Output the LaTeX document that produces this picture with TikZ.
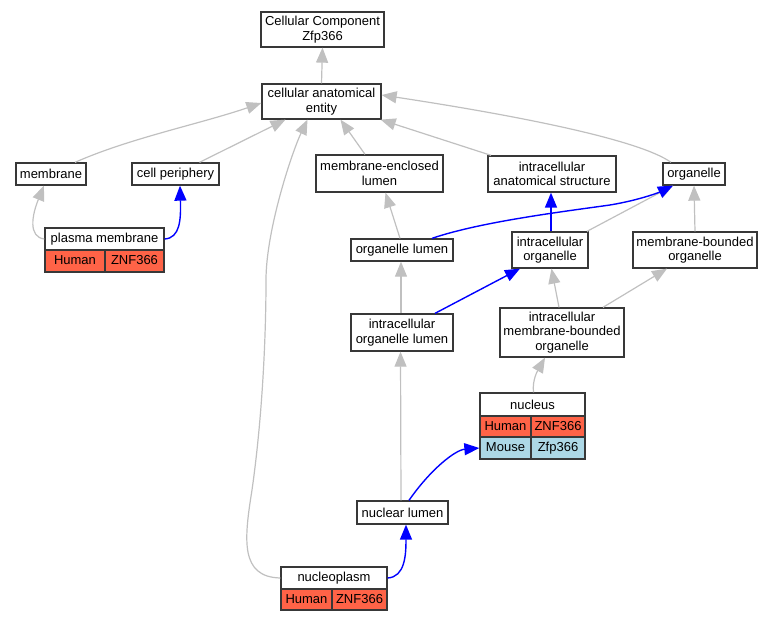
\documentclass[tikz,border=0pt]{standalone}
\usepackage{fontspec}
\setmainfont{Liberation Sans}
\usetikzlibrary{arrows.meta}
\definecolor{edgegray}{HTML}{C0C0C0}
\definecolor{human}{HTML}{FF6347}
\definecolor{mouse}{HTML}{ADD8E6}
\definecolor{bord}{HTML}{383838}
\definecolor{partblue}{HTML}{0000FF}
\begin{document}
\begin{tikzpicture}[x=1pt,y=-1pt,
  box/.style={draw=bord, line width=1.3pt, fill=white, align=center, inner sep=0pt,
    font=\fontsize{13}{14.5}\selectfont},
  hcell/.style={box, fill=human, text height=9.5pt, text depth=2.5pt},
  mcell/.style={box, fill=mouse, text height=9.5pt, text depth=2.5pt},
  isa/.style={draw=edgegray, line width=1.2pt, -{Triangle[length=15pt,width=12pt,fill=edgegray]}},
  partof/.style={draw=partblue, line width=1.4pt, -{Triangle[length=15pt,width=12pt,fill=partblue]}}
]
\useasboundingbox (0,0) rectangle (772,621);

% nodes
\node[box, minimum width=123pt, minimum height=35pt] (cc) at (322.5,29.5) {Cellular Component\\Zfp366};
\node[box, minimum width=119pt, minimum height=35pt] (cae) at (321.5,101.5) {cellular anatomical\\entity};
\node[box, minimum width=70pt, minimum height=22pt] (membrane) at (51,174) {membrane};
\node[box, minimum width=87pt, minimum height=22pt] (cellper) at (175.5,174) {cell periphery};
\node[box, minimum width=127pt, minimum height=37pt] (mel) at (379.5,173.5) {membrane-enclosed\\lumen};
\node[box, minimum width=128pt, minimum height=36pt] (ias) at (552,174) {intracellular\\anatomical structure};
\node[box, minimum width=62pt, minimum height=22pt] (org) at (694,174) {organelle};

\node[box, minimum width=119pt, minimum height=22pt] (pm) at (104.5,239) {plasma membrane};
\node[hcell, minimum width=60pt, minimum height=22pt] (pmh) at (75,261) {Human};
\node[hcell, minimum width=59pt, minimum height=22pt] (pmg) at (134.5,261) {ZNF366};

\node[box, minimum width=102pt, minimum height=22pt] (ol) at (402,250) {organelle lumen};
\node[box, minimum width=76pt, minimum height=36pt] (io) at (550,250) {intracellular\\organelle};
\node[box, minimum width=124pt, minimum height=36pt] (mbo) at (695,250) {membrane-bounded\\organelle};
\node[box, minimum width=102pt, minimum height=37pt] (iol) at (402,332.5) {intracellular\\organelle lumen};
\node[box, minimum width=124pt, minimum height=49pt] (imbo) at (562,332.5) {intracellular\\membrane-bounded\\organelle};

\node[box, minimum width=105pt, minimum height=23pt] (nucleus) at (532.5,404.5) {nucleus};
\node[hcell, minimum width=51pt, minimum height=21pt] (nuh) at (505.5,426.5) {Human};
\node[hcell, minimum width=54pt, minimum height=21pt] (nug) at (558,426.5) {ZNF366};
\node[mcell, minimum width=51pt, minimum height=22pt] (num) at (505.5,448) {Mouse};
\node[mcell, minimum width=54pt, minimum height=22pt] (nuz) at (558,448) {Zfp366};

\node[box, minimum width=91pt, minimum height=23pt] (nl) at (402.5,512.5) {nuclear lumen};

\node[box, minimum width=106pt, minimum height=22pt] (np) at (334,578) {nucleoplasm};
\node[hcell, minimum width=51pt, minimum height=21pt] (nph) at (306.5,599.5) {Human};
\node[hcell, minimum width=55pt, minimum height=21pt] (npg) at (359.5,599.5) {ZNF366};

% gray is_a edges
\draw[isa] (cae.north) -- (cc.south);
\draw[isa] ([xshift=24pt]membrane.north) .. controls (130,138) and (200,124) .. ([yshift=-1.5pt]cae.west);
\draw[isa] ([xshift=24pt]cellper.north) -- ([xshift=-36pt]cae.south);
\draw[isa] (np.west) .. controls (240,577) and (244,540) .. (252,490)
   .. controls (262,420) and (266,340) .. (266,280)
   .. controls (266,230) and (292,152) .. ([xshift=-14pt]cae.south);
\draw[isa] ([xshift=-14.5pt]mel.north) -- ([xshift=19pt]cae.south);
\draw[isa] ([xshift=-61pt]ias.north) -- ([xshift=-1pt]cae.south east);
\draw[isa] ([xshift=-23pt]org.north) .. controls (640,140) and (520,116) .. ([yshift=6.5pt]cae.east);
\draw[isa] (pm.west) .. controls (28,237) and (32,215) .. ([xshift=-7pt]membrane.south);
\draw[isa] ([xshift=-2pt]ol.north) -- ([xshift=6pt]mel.south);
\draw[isa] ([xshift=37pt]io.north) -- ([xshift=-21pt]org.south);
\draw[isa] ([xshift=0pt]mbo.north) -- ([xshift=0pt]org.south);
\draw[isa] ([xshift=-1pt]iol.north) -- ([xshift=-1pt]ol.south);
\draw[isa] ([xshift=-3pt]imbo.north) -- ([xshift=1.5pt]io.south);
\draw[isa] ([xshift=41pt]imbo.north) -- ([xshift=-28pt]mbo.south);
\draw[isa] ([xshift=1pt]nucleus.north) .. controls (532,380) and (538,370) .. ([xshift=-17pt]imbo.south);
\draw[isa] ([xshift=-1.5pt]nl.north) -- ([xshift=-1.5pt]iol.south);

% blue part_of edges
\draw[partof] (pm.east) .. controls (180,238) and (181,220) .. ([xshift=4.5pt]cellper.south);
\draw[partof] ([xshift=30pt]ol.north) .. controls (480,222) and (560,212) .. (610,205)
   .. controls (640,200) and (660,192) .. ([xshift=-21pt]org.south);
\draw[partof] ([xshift=1pt]io.north) -- ([xshift=-1pt]ias.south);
\draw[partof] ([xshift=33pt]iol.north) -- ([xshift=-30pt]io.south);
\draw[partof] ([xshift=6.5pt]nl.north) .. controls (430,470) and (455,450) .. (num.west);
\draw[partof] (np.east) .. controls (405,577) and (406,555) .. ([xshift=3.5pt]nl.south);
\end{tikzpicture}
\end{document}
